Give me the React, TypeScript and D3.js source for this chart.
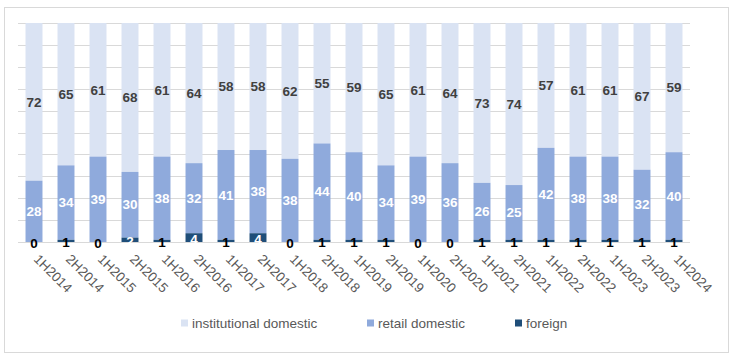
import React from "react";
import * as d3 from "d3";

const categories = ["1H2014","2H2014","1H2015","2H2015","1H2016","2H2016","1H2017","2H2017","1H2018","2H2018","1H2019","2H2019","1H2020","2H2020","1H2021","2H2021","1H2022","2H2022","1H2023","2H2023","1H2024"];
const foreign = [0,1,0,2,1,4,1,4,0,1,1,1,0,0,1,1,1,1,1,1,1];
const retail = [28,34,39,30,38,32,41,38,38,44,40,34,39,36,26,25,42,38,38,32,40];
const institutional = [72,65,61,68,61,64,58,58,62,55,59,65,61,64,73,74,57,61,61,67,59];
const seriesNames = ["institutional domestic", "retail domestic", "foreign"];
const colors = { inst: "#DAE3F3", retail: "#8FAADC", foreign: "#1F4E79" };
const yTicks = [0,10,20,30,40,50,60,70,80,90,100];

export default function App() {
  const W = 734, H = 358;
  const x = d3.scaleBand<string>().domain(categories).range([18, 690]).paddingInner(0.47).paddingOuter(0.235);
  const y = d3.scaleLinear().domain([0, 100]).range([242, 23]);
  const bw = x.bandwidth();
  const font = "'Liberation Sans', Arial, sans-serif";
  const legend = [
    { name: seriesNames[0], color: colors.inst, x: 181 },
    { name: seriesNames[1], color: colors.retail, x: 367 },
    { name: seriesNames[2], color: colors.foreign, x: 515 },
  ];
  return (
    <svg width={W} height={H} style={{ position: "absolute", left: 0, top: 0, background: "#fff" }} fontFamily={font}>
      <rect x={4.5} y={7.5} width={724} height={345} fill="#fff" stroke="#D9D9D9" />
      {yTicks.map((t) => (
        <line key={t} x1={18} x2={690} y1={Math.round(y(t)) + 0.5} y2={Math.round(y(t)) + 0.5} stroke="#D9D9D9" strokeWidth={1} />
      ))}
      {categories.map((c, i) => {
        const x0 = x(c)!;
        const f = foreign[i], r = retail[i], ins = institutional[i];
        const cx = x0 + bw / 2;
        return (
          <g key={c}>
            <rect x={x0} y={y(f + r + ins)} width={bw} height={y(f + r) - y(f + r + ins)} fill={colors.inst} />
            <rect x={x0} y={y(f + r)} width={bw} height={y(f) - y(f + r)} fill={colors.retail} />
            <rect x={x0} y={y(f)} width={bw} height={y(0) - y(f)} fill={colors.foreign} />
            <text x={cx} y={y(f + r + ins / 2)} dy="0.35em" textAnchor="middle" fontSize={13.5} fontWeight="bold" fill="#404040">{ins}</text>
            <text x={cx} y={y(f + r / 2)} dy="0.35em" textAnchor="middle" fontSize={13.5} fontWeight="bold" fill="#fff">{r}</text>
            <text x={cx} y={y(f / 2)} dy="0.45em" textAnchor="middle" fontSize={13.5} fontWeight="bold" fill={f >= 2 ? "#fff" : "#000"}>{f}</text>
            <text transform={`translate(${cx - 1},${260}) rotate(45)`} fontSize={13.5} fill="#595959" textAnchor="start">{c}</text>
          </g>
        );
      })}
      {legend.map((l) => (
        <g key={l.name}>
          <rect x={l.x} y={319.5} width={7} height={7} fill={l.color} />
          <text x={l.x + 11} y={323} dy="0.35em" fontSize={13.5} fill="#595959">{l.name}</text>
        </g>
      ))}
    </svg>
  );
}
